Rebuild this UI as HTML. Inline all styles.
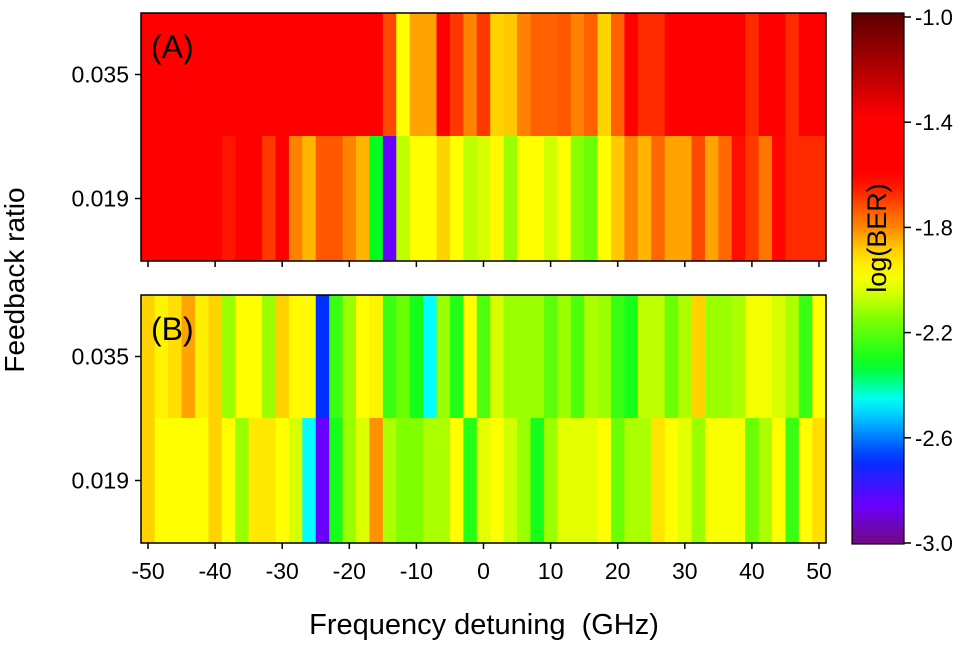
<!DOCTYPE html>
<html><head><meta charset="utf-8"><style>
body{margin:0;background:#fff;}
svg{display:block;font-family:"Liberation Sans",Arial,sans-serif;}
</style></head><body>
<svg id="chart" width="971" height="646" viewBox="0 0 971 646">
<g id="cells"></g>
<g id="axes"></g>
<defs><linearGradient id="cbgrad" x1="0" y1="1" x2="0" y2="0"></linearGradient></defs>
<rect x="852" y="13" width="52" height="531" fill="url(#cbgrad)" stroke="#000" stroke-width="1.2"/>
<g id="cbticks"></g>
<text x="886" y="238" transform="rotate(-90 886 238)" text-anchor="middle" font-size="27">log(BER)</text>
<text x="24" y="280" transform="rotate(-90 24 280)" text-anchor="middle" font-size="28">Feedback ratio</text>
<text x="484" y="634" text-anchor="middle" font-size="29" xml:space="preserve" style="white-space:pre">Frequency detuning  (GHz)</text>
<text x="151" y="58" font-size="32">(A)</text>
<text x="151" y="340" font-size="32">(B)</text>
</svg>
<script>
const freqs = [];
for (let f = -50; f <= 50; f += 2) freqs.push(f);
const rowLabels = ["0.035", "0.019"];
const xTicks = [-50,-40,-30,-20,-10,0,10,20,30,40,50];
const cbTicks = [-1.0,-1.4,-1.8,-2.2,-2.6,-3.0];
const aTop = [-1.62,-1.62,-1.62,-1.62,-1.62,-1.62,-1.62,-1.62,-1.62,-1.62,-1.62,-1.62,-1.62,-1.62,-1.62,-1.62,-1.62,-1.62,
 -1.72,-1.98,-1.84,-1.84,-1.62,-1.7,-1.8,-1.7,-1.9,-1.88,-1.8,-1.75,-1.75,-1.74,-1.8,-1.75,-1.9,-1.75,-1.62,-1.68,-1.68,
 -1.62,-1.62,-1.62,-1.62,-1.62,-1.62,-1.68,-1.62,-1.62,-1.68,-1.62,-1.62];
const aBot = [-1.62,-1.62,-1.62,-1.62,-1.62,-1.58,-1.65,-1.62,-1.62,-1.7,-1.62,-1.8,-1.86,-1.74,-1.74,-1.8,-1.86,-2.33,-2.85,
 -2.08,-1.98,-1.98,-1.9,-1.98,-2.08,-2.05,-1.97,-2.12,-1.98,-1.98,-2.06,-1.98,-2.14,-2.18,-1.98,-1.88,-1.8,-1.86,-1.76,
 -1.84,-1.84,-1.72,-1.84,-1.76,-1.64,-1.7,-1.78,-1.63,-1.68,-1.68,-1.68];
const bTop = [-1.9,-1.96,-1.92,-1.84,-1.95,-1.9,-2.12,-1.98,-1.98,-2.12,-1.9,-1.97,-1.97,-2.68,-2.25,-2.12,-1.98,-1.96,
 -2.25,-2.18,-2.3,-2.46,-2.12,-2.28,-1.98,-2.22,-2.05,-2.12,-2.12,-2.12,-2.2,-2.12,-2.22,-2.1,-2.12,-2.25,-2.3,-2.08,
 -2.08,-2.18,-2.1,-1.9,-2.12,-2.12,-2.1,-2.0,-2.0,-2.05,-2.1,-2.25,-1.98];
const bBot = [-1.9,-1.98,-1.98,-1.98,-1.98,-1.9,-1.98,-2.12,-1.94,-1.94,-1.98,-2.05,-2.46,-2.85,-2.3,-2.12,-2.04,-1.82,
 -2.1,-2.15,-2.15,-2.1,-2.1,-1.98,-2.28,-2.03,-1.98,-2.06,-2.12,-2.3,-2.12,-2.03,-2.03,-2.03,-1.98,-2.18,-2.1,-2.1,
 -1.93,-1.98,-2.03,-2.12,-1.99,-1.99,-1.99,-2.18,-2.1,-1.98,-2.25,-1.98,-1.92];

const stops = [[-3.0,[112,10,128]],[-2.85,[106,0,255]],[-2.68,[0,48,255]],[-2.46,[0,255,255]],[-2.33,[0,255,32]],
 [-2.15,[128,255,0]],[-2.05,[216,255,0]],[-1.98,[255,255,0]],[-1.88,[255,200,0]],[-1.82,[255,144,0]],
 [-1.75,[255,96,0]],[-1.7,[255,56,0]],[-1.62,[255,0,0]],[-1.4,[255,0,0]],[-1.0,[90,0,0]]];
function cmap(v){
  if (v <= stops[0][0]) return 'rgb('+stops[0][1]+')';
  for (let i=1;i<stops.length;i++){
    if (v <= stops[i][0]){
      const t=(v-stops[i-1][0])/(stops[i][0]-stops[i-1][0]);
      const a=stops[i-1][1], b=stops[i][1];
      return 'rgb('+a.map((c,k)=>Math.round(c+(b[k]-c)*t)).join(',')+')';
    }
  }
  return 'rgb('+stops[stops.length-1][1]+')';
}
const NS='http://www.w3.org/2000/svg';
function mk(tag, attrs, parent){const e=document.createElementNS(NS,tag);for(const k in attrs)e.setAttribute(k,attrs[k]);parent.appendChild(e);return e;}
const xScale = f => 148 + (f+50)*6.71;
const colW = 2*6.71;
const panels = [{top:13, mid:136, bot:261, rows:[aTop,aBot], name:'a', labels:false},
                {top:295, mid:418, bot:543, rows:[bTop,bBot], name:'b', labels:true}];
const cells = document.getElementById('cells');
const axes = document.getElementById('axes');
panels.forEach(p=>{
  p.rows.forEach((row,r)=>{
    const y0 = r===0 ? p.top : p.mid, y1 = r===0 ? p.mid : p.bot;
    row.forEach((v,i)=>{
      const el = mk('rect',{x:(xScale(freqs[i])-colW/2).toFixed(2), y:y0, width:(colW+0.6).toFixed(2), height:y1-y0, fill:cmap(v)}, cells);
      
      
    });
    const yc=(y0+y1)/2;
    const tk = mk('line',{x1:141,x2:135,y1:yc,y2:yc,stroke:'#000','stroke-width':1.5},axes);
    
    
    const lb = mk('text',{x:129,y:yc+8,'text-anchor':'end','font-size':23},axes);
    lb.textContent=rowLabels[r];
    
    
  });
  const fr = mk('rect',{x:141,y:p.top,width:685,height:p.bot-p.top,fill:'none',stroke:'#000','stroke-width':1.5},axes);
  
  
  xTicks.forEach(t=>{
    const l = mk('line',{x1:xScale(t),x2:xScale(t),y1:p.bot,y2:p.bot+6,stroke:'#000','stroke-width':1.5},axes);
    
    
    if(p.labels){
      const tx = mk('text',{x:xScale(t),y:p.bot+36,'text-anchor':'middle','font-size':23},axes);
      tx.textContent=t;
      
      
    }
  });
});
const grad=document.getElementById('cbgrad');
for(let k=0;k<=40;k++){
  const v=-3+k*0.05;
  mk('stop',{offset:(k/40).toFixed(3),'stop-color':cmap(v)},grad);
}
const cbY = v => 17 + (-1 - v)*263;
const cbt=document.getElementById('cbticks');
cbTicks.forEach(v=>{
  const l=mk('line',{x1:904,x2:911,y1:cbY(v),y2:cbY(v),stroke:'#000','stroke-width':1.5},cbt);
  
  
  const t=mk('text',{x:915,y:cbY(v)+8,'font-size':22},cbt);
  t.textContent=v.toFixed(1);
  
  
});
</script>
</body></html>
